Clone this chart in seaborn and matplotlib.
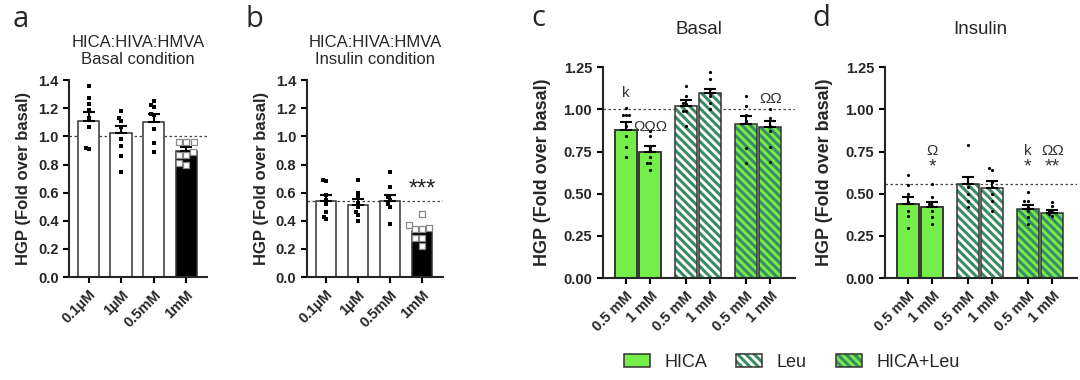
import warnings
warnings.filterwarnings("ignore")
import numpy as np
import pandas as pd
import matplotlib
matplotlib.use("Agg")
import matplotlib.pyplot as plt
import seaborn as sns
from matplotlib.patches import Patch
from matplotlib.legend_handler import HandlerTuple

# ---------------- data ----------------
ab_categories = ["0.1µM", "1µM", "0.5mM", "1mM"]

a_means = [1.11, 1.025, 1.105, 0.898]
a_sems = [0.065, 0.048, 0.052, 0.024]
a_points = [
    [1.36, 1.27, 1.23, 1.19, 1.13, 1.07, 0.92, 0.91],
    [1.18, 1.13, 1.11, 1.07, 0.98, 0.93, 0.86, 0.75],
    [1.25, 1.22, 1.21, 1.16, 1.15, 1.05, 0.95, 0.89],
    [0.96, 0.96, 0.96, 0.89, 0.87, 0.87, 0.81, 0.80],
]
a_ref = 1.0

b_means = [0.54, 0.515, 0.54, 0.325]
b_sems = [0.045, 0.04, 0.045, 0.025]
b_points = [
    [0.69, 0.68, 0.58, 0.55, 0.52, 0.46, 0.43, 0.41],
    [0.69, 0.60, 0.57, 0.53, 0.50, 0.46, 0.44, 0.40],
    [0.75, 0.64, 0.57, 0.55, 0.52, 0.50, 0.38],
    [0.45, 0.37, 0.35, 0.34, 0.34, 0.28, 0.28, 0.22],
]
b_ref = 0.54

cd_labels = ["0.5 mM", "1 mM", "0.5 mM", "1 mM", "0.5 mM", "1 mM"]
cd_groups = ["HICA", "HICA", "Leu", "Leu", "HICA+Leu", "HICA+Leu"]

c_means = [0.879, 0.748, 1.022, 1.097, 0.913, 0.893]
c_sems = [0.044, 0.036, 0.034, 0.024, 0.049, 0.040]
c_points = [
    [1.01, 0.97, 0.97, 0.97, 0.90, 0.84, 0.78, 0.72],
    [0.87, 0.84, 0.78, 0.76, 0.72, 0.68, 0.68, 0.64],
    [1.14, 1.08, 1.04, 1.03, 0.99, 0.99, 0.90],
    [1.22, 1.18, 1.12, 1.10, 1.08, 1.04, 1.00],
    [1.08, 1.02, 0.97, 0.93, 0.77, 0.68],
    [1.00, 0.95, 0.90, 0.87, 0.78, 0.69],
]
c_ref = 1.0
c_marks = [("k", 0, 1.10), ("ΩΩΩ", 1, 0.893), ("ΩΩ", 5, 1.06)]

d_means = [0.44, 0.424, 0.56, 0.534, 0.408, 0.384]
d_sems = [0.04, 0.03, 0.04, 0.04, 0.026, 0.02]
d_points = [
    [0.61, 0.55, 0.50, 0.45, 0.40, 0.37, 0.30],
    [0.56, 0.48, 0.44, 0.43, 0.40, 0.36, 0.32],
    [0.79, 0.54, 0.50, 0.46, 0.42],
    [0.65, 0.64, 0.57, 0.54, 0.50, 0.46, 0.40],
    [0.51, 0.46, 0.46, 0.42, 0.40, 0.36, 0.32],
    [0.45, 0.43, 0.40, 0.39, 0.38, 0.37],
]
d_ref = 0.558
d_marks = [("Ω", 1, 0.754), ("k", 4, 0.754), ("ΩΩ", 5, 0.754)]
d_stars = [("*", 1, 0.66), ("*", 4, 0.66), ("**", 5, 0.66)]

# ---------------- style ----------------
sns.set_style("ticks")
plt.rcParams["font.family"] = ["Liberation Sans", "DejaVu Sans"]
plt.rcParams["hatch.linewidth"] = 2.2
plt.rcParams["axes.linewidth"] = 1.5

GREEN = "#76ee4a"
HATCH = "#3d8b65"
EDGE = "#333333"
HATCH_PAT = "\\\\\\\\"

fig = plt.figure(figsize=(10.8, 3.8), dpi=100)
ax_a = fig.add_axes([0.0639, 0.271, 0.128, 0.518])
ax_b = fig.add_axes([0.284, 0.271, 0.126, 0.518])
ax_c = fig.add_axes([0.558, 0.268, 0.178, 0.555])
ax_d = fig.add_axes([0.819, 0.268, 0.178, 0.555])


def style_axis(ax, yticks, ylabels, tick_fs, ylab_fs, ylab_pad):
    sns.despine(ax=ax)
    ax.set_yticks(yticks, ylabels)
    ax.tick_params(axis="both", width=1.5, length=4, labelsize=tick_fs, color="black")
    for lab in ax.get_yticklabels():
        lab.set_fontweight("bold")
    ax.set_ylabel("HGP (Fold over basal)", fontsize=ylab_fs, fontweight="bold",
                  labelpad=ylab_pad)


def panel_ab(ax, means, sems, points, ref, title):
    bdf = pd.DataFrame({"cat": ab_categories, "val": means})
    sns.barplot(data=bdf, x="cat", y="val", order=ab_categories, ax=ax,
                width=0.65, errorbar=None, color="white", edgecolor=EDGE,
                linewidth=1.1, zorder=2)
    for i, p in enumerate(ax.patches):
        p.set_facecolor("black" if i == 3 else "white")
    ax.errorbar(range(len(means)), means, yerr=[np.zeros(len(sems)), sems],
                fmt="none", ecolor="black", elinewidth=1.5, capsize=4.5,
                capthick=1.5, zorder=3)
    rows = [(ab_categories[i], v) for i, pts in enumerate(points[:3]) for v in pts]
    pdf = pd.DataFrame(rows, columns=["cat", "val"])
    sns.swarmplot(data=pdf, x="cat", y="val", order=ab_categories, ax=ax,
                  color="black", size=2.3, marker="s", zorder=4)
    sq = pd.DataFrame({"cat": ab_categories[3], "val": points[3]})
    sns.swarmplot(data=sq, x="cat", y="val", order=ab_categories, ax=ax,
                  color="white", edgecolor="#888888", linewidth=0.9, size=4.2,
                  marker="s", zorder=4)
    ax.axhline(ref, color="#444444", ls=(0, (2, 2)), lw=0.9, zorder=1)
    ax.set_ylim(0, 1.4)
    ax.set_xlim(-0.6, 3.65)
    yt = np.arange(0, 1.41, 0.2)
    style_axis(ax, yt, [f"{v:.1f}" for v in yt], 10.5, 12, 5)
    ax.set_xticks(range(4), ab_categories, rotation=45, ha="right",
                  rotation_mode="anchor", fontweight="bold", fontsize=10.5)
    ax.set_xlabel("")
    ax.set_title(title, fontsize=12, pad=12, linespacing=1.1)


def panel_cd(ax, means, sems, points, ref, title):
    gidx = {"HICA": 0, "Leu": 1, "HICA+Leu": 2}
    pos = [gidx[g] * 2.45 + (i % 2) for i, g in enumerate(cd_groups)]
    bdf = pd.DataFrame({"x": pos, "val": means})
    sns.barplot(data=bdf, x="x", y="val", native_scale=True, ax=ax, width=0.9,
                errorbar=None, color=GREEN, edgecolor=EDGE, linewidth=1.1, zorder=2)
    for p, g in zip(ax.patches, cd_groups):
        if g == "HICA":
            p.set_facecolor(GREEN)
        else:
            p.set_facecolor("white" if g == "Leu" else GREEN)
            p.set_hatch(HATCH_PAT)
            p.set_edgecolor(HATCH)
            p.set_linewidth(0)
    # outlines
    sns.barplot(data=bdf, x="x", y="val", native_scale=True, ax=ax, width=0.9,
                errorbar=None, fill=False, color=EDGE, linewidth=1.1, zorder=2.5)
    ax.errorbar(pos, means, yerr=[np.zeros(len(sems)), sems], fmt="none",
                ecolor="black", elinewidth=1.5, capsize=4.5, capthick=1.5, zorder=3)
    rows = [(pos[i], v) for i, pts in enumerate(points) for v in pts]
    pdf = pd.DataFrame(rows, columns=["x", "val"])
    sns.swarmplot(data=pdf, x="x", y="val", native_scale=True, ax=ax,
                  color="black", size=2.3, zorder=4)
    ax.axhline(ref, color="#444444", ls=(0, (2, 2)), lw=0.9, zorder=1)
    ax.set_ylim(0, 1.25)
    ax.set_xlim(-0.95, 6.9)
    yt = np.arange(0, 1.26, 0.25)
    style_axis(ax, yt, [f"{v:.2f}" for v in yt], 10.5, 13, 9)
    ax.set_xticks(pos, cd_labels, rotation=45, ha="right",
                  rotation_mode="anchor", fontweight="bold", fontsize=10.5)
    ax.set_xlabel("")
    ax.set_title(title, fontsize=13.5, pad=24)
    return pos


panel_ab(ax_a, a_means, a_sems, a_points, a_ref, "HICA:HIVA:HMVA\nBasal condition")
panel_ab(ax_b, b_means, b_sems, b_points, b_ref, "HICA:HIVA:HMVA\nInsulin condition")
ax_b.text(3, 0.62, "***", ha="center", va="center", fontsize=17, color="#222222")

pos_c = panel_cd(ax_c, c_means, c_sems, c_points, c_ref, "Basal")
pos_d = panel_cd(ax_d, d_means, d_sems, d_points, d_ref, "Insulin")
for txt, i, y in c_marks:
    ax_c.text(pos_c[i], y, txt, ha="center", va="center", fontsize=11, color="#333333")
for txt, i, y in d_marks:
    ax_d.text(pos_d[i], y, txt, ha="center", va="center", fontsize=11, color="#333333")
for txt, i, y in d_stars:
    ax_d.text(pos_d[i], y, txt, ha="center", va="center", fontsize=14, color="#333333")

# panel letters
for lx, ly, letter in [(0.012, 0.929, "a"), (0.227, 0.929, "b"),
                       (0.492, 0.932, "c"), (0.752, 0.932, "d")]:
    fig.text(lx, ly, letter, fontsize=21, family="Open Sans", va="baseline")

# legend
h_hica = Patch(facecolor=GREEN, edgecolor=EDGE, linewidth=1.1)
h_leu = (Patch(facecolor="white", edgecolor=HATCH, hatch=HATCH_PAT, linewidth=0),
         Patch(facecolor="none", edgecolor=EDGE, linewidth=1.1))
h_mix = (Patch(facecolor=GREEN, edgecolor=HATCH, hatch=HATCH_PAT, linewidth=0),
         Patch(facecolor="none", edgecolor=EDGE, linewidth=1.1))
fig.legend([h_hica, h_leu, h_mix], ["HICA", "Leu", "HICA+Leu"],
           handler_map={tuple: HandlerTuple(ndivide=1, pad=0)},
           loc="center", bbox_to_anchor=(0.733, 0.047), ncol=3, frameon=False,
           fontsize=13, handlelength=1.45, handleheight=0.72,
           handletextpad=0.8, columnspacing=1.6)

fig.savefig("out.png", dpi=100)
